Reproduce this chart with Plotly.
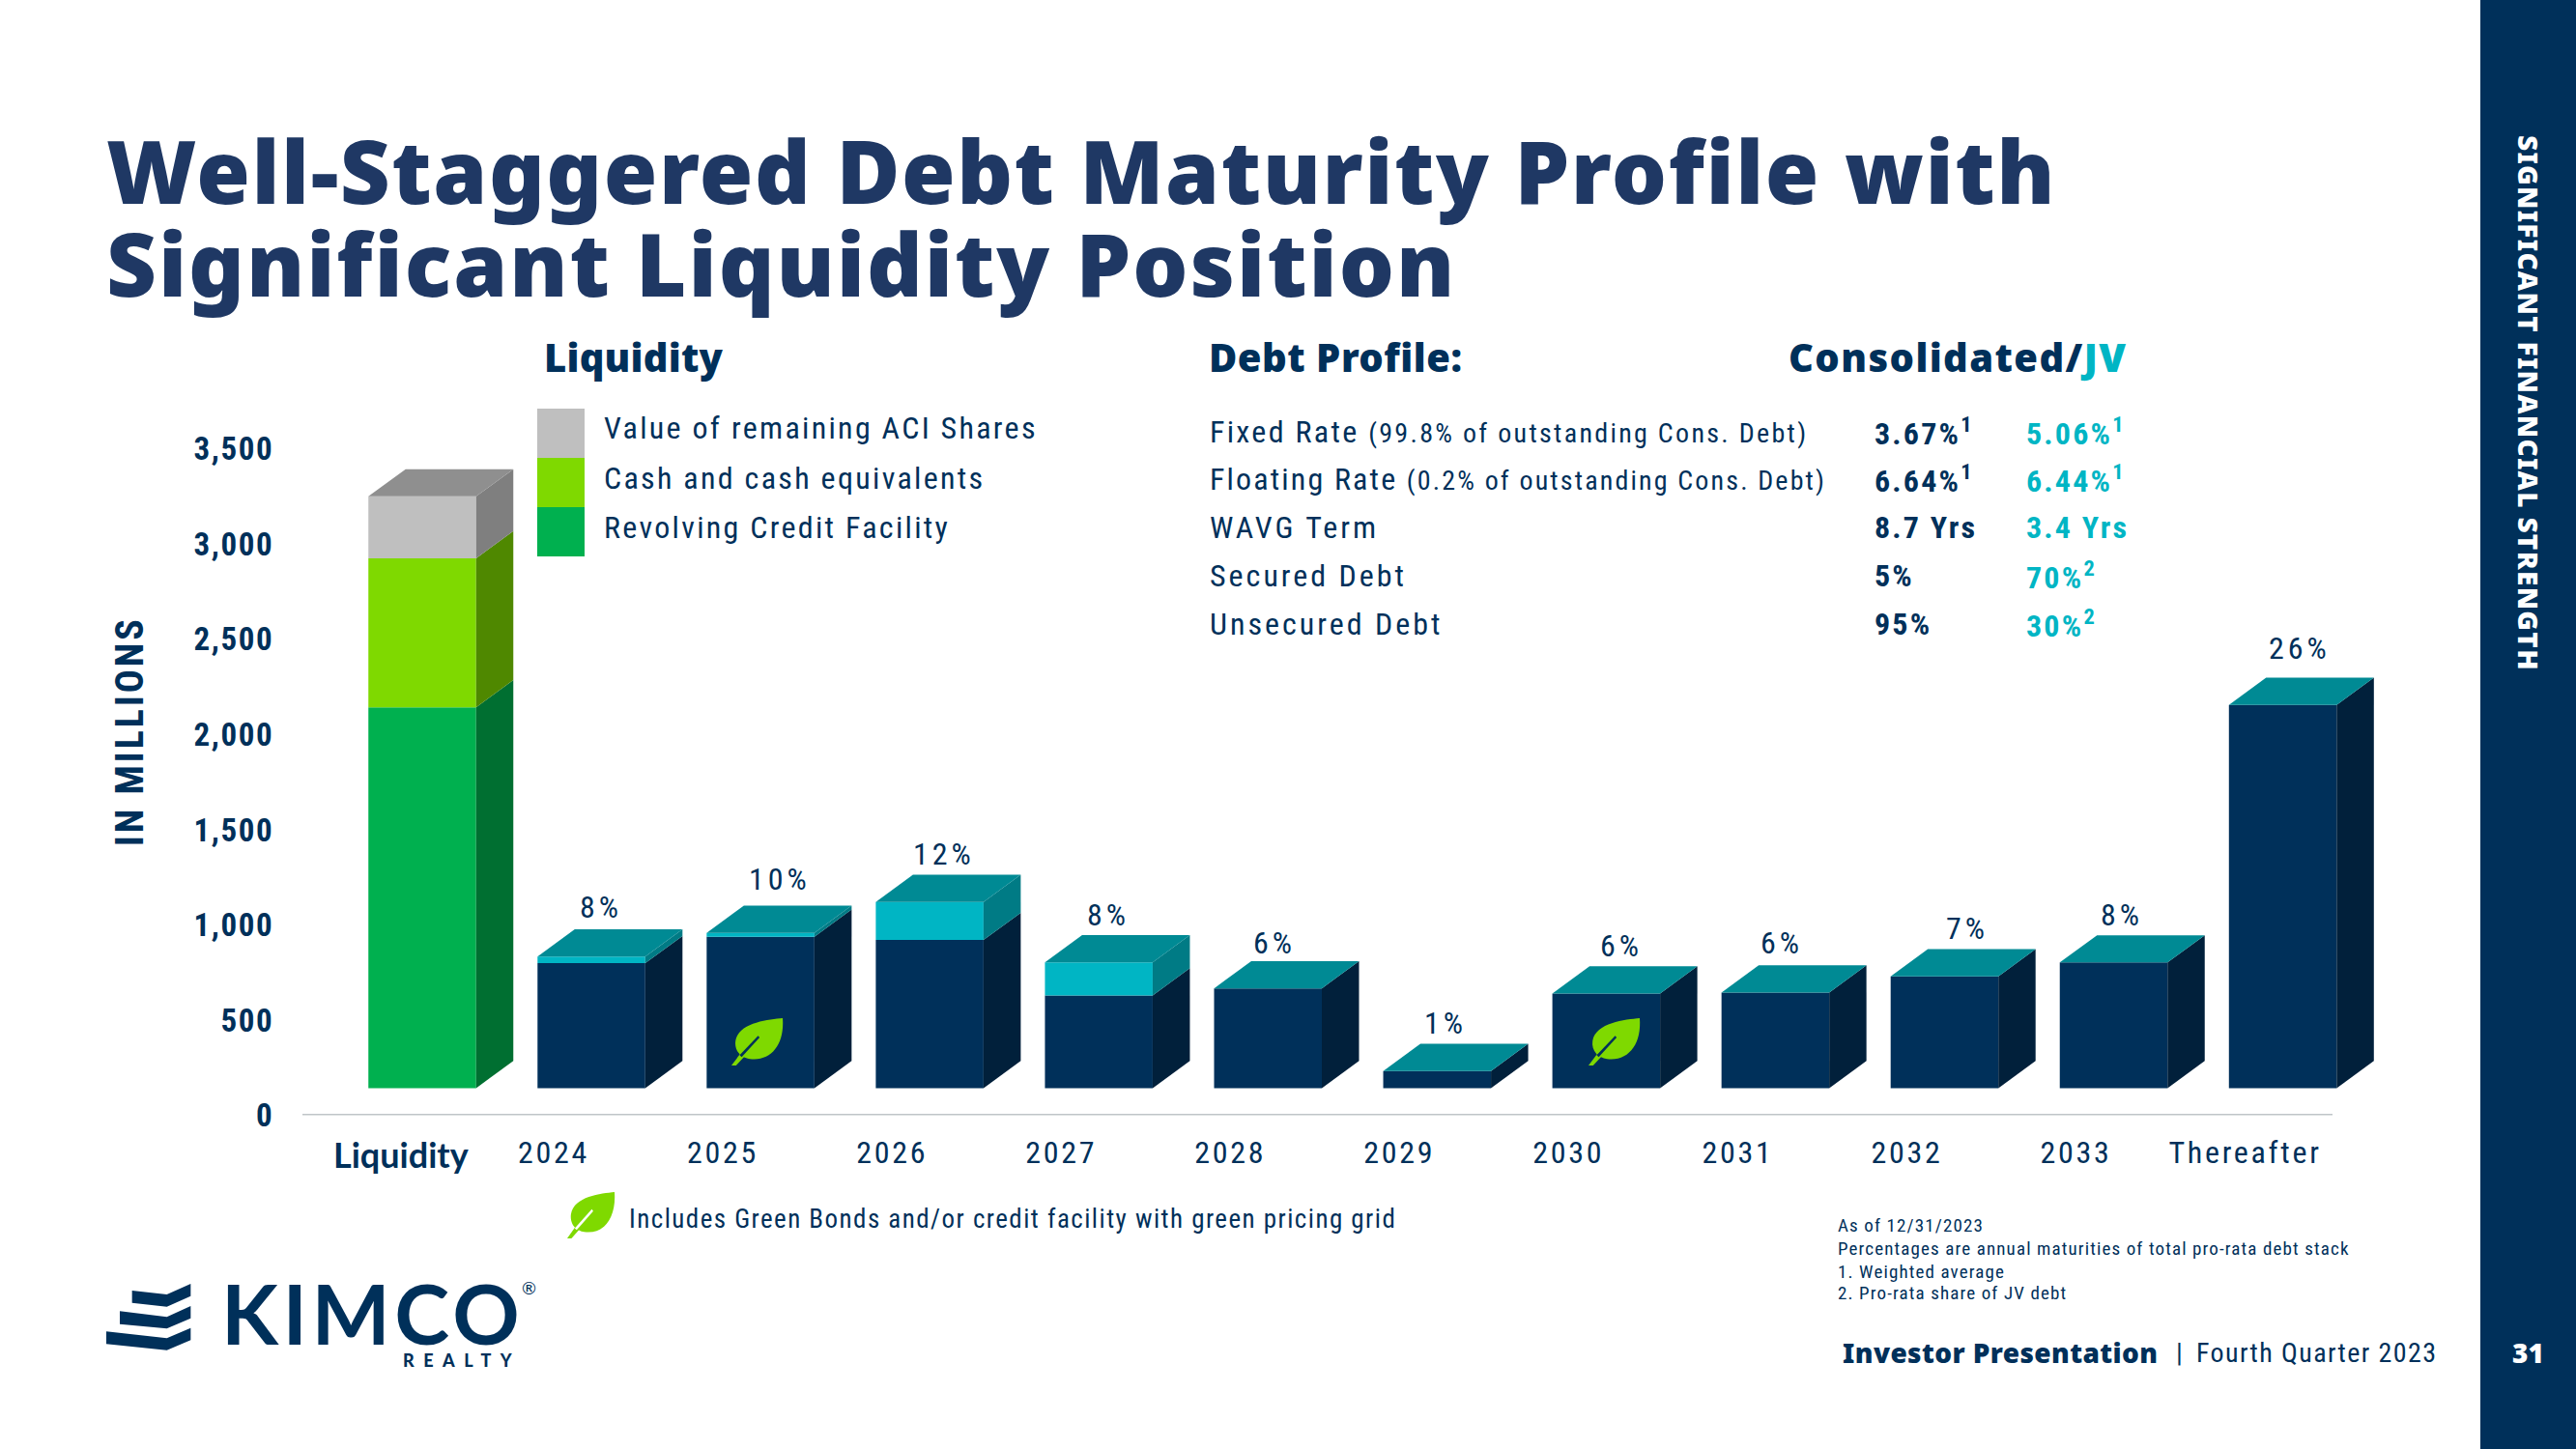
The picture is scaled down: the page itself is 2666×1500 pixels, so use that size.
import plotly.graph_objects as go

# ---------- data ----------
categories = ["Liquidity", "2024", "2025", "2026", "2027", "2028", "2029", "2030", "2031", "2032", "2033", "Thereafter"]
consolidated = [656, 795, 778, 487, 524, 90, 497, 502, 587, 660, 2013]
jv_share = [35, 20, 200, 174, 0, 0, 0, 0, 0, 0, 0]
pct_labels = ["8%", "10%", "12%", "8%", "6%", "1%", "6%", "6%", "7%", "8%", "26%"]
liq_revolver = 2000
liq_cash = 783
liq_aci = 325
y_ticks = [0, 500, 1000, 1500, 2000, 2500, 3000, 3500]
legend_labels = ["Value of remaining ACI Shares", "Cash and cash equivalents", "Revolving Credit Facility"]
debt_rows = ["Fixed Rate", "Floating Rate", "WAVG Term", "Secured Debt", "Unsecured Debt"]
debt_notes = ["(99.8% of outstanding Cons. Debt)", "(0.2% of outstanding Cons. Debt)", "", "", ""]
debt_cons = ["3.67%<sup>1</sup>", "6.64%<sup>1</sup>", "8.7 Yrs", "5%", "95%"]
debt_jv = ["5.06%<sup>1</sup>", "6.44%<sup>1</sup>", "3.4 Yrs", "70%<sup>2</sup>", "30%<sup>2</sup>"]
notes = ["As of 12/31/2023", "Percentages are annual maturities of total pro-rata debt stack",
         "1. Weighted average", "2. Pro-rata share of JV debt"]

# ---------- layout constants ----------
W, H = 2666, 1500
NAVY, TITLE, CYAN = "#00305A", "#1F3864", "#00B5C4"
NARROW = "Roboto Condensed, Liberation Sans, sans-serif"
HEAVY = "Noto Sans, Liberation Sans, sans-serif"
X0_PX, STEP_PX = 437.0, 175.05        # centre of category 0, spacing
AX_L, AX_R, AX_Y = 313.0, 2414.0, 1154.6
PLOT_R = 2480.0                       # plot area runs past the axis line so the last column's side is not clipped
PX_PER_UNIT = 0.1971
TOP_PX = 440.0
BAR_W = 111.5 / STEP_PX
DX = 38.5 / STEP_PX
FLOOR = 143.0                         # 3D floor depth in value units
DY = 143.0
X_LO = (AX_L - X0_PX) / STEP_PX
X_LINE_END = (AX_R - X0_PX) / STEP_PX
X_HI = (PLOT_R - X0_PX) / STEP_PX


def px(x): return x / W
def py(y): return 1 - y / H


def ls(t, sp, extra=""):
    return f'<span style="letter-spacing:{sp}px;{extra}">{t}</span>'


annotations, shapes = [], []


def txt(x, y, t, size, color=NAVY, family=NARROW, weight=None, sp=0, anchor="left", angle=0, extra=""):
    f = dict(size=size, color=color, family=family)
    if weight:
        f["weight"] = weight
    annotations.append(dict(xref="paper", yref="paper", x=px(x), y=py(y), text=ls(t, sp, extra), showarrow=False,
                            xanchor=anchor, yanchor="middle", align=anchor, font=f, textangle=angle,
                            borderpad=0, borderwidth=0))


fig = go.Figure()

# axis baseline, stops short of the plot area's right edge
fig.add_trace(go.Scatter(x=[X_LO, X_LINE_END], y=[0, 0], mode="lines", line=dict(color="#BFC5C8", width=3),
                         showlegend=False, hoverinfo="skip", cliponaxis=False))


def box(i, bottom, top, front, side, topc=None):
    """Draw one segment of a 3D column through the axes."""
    l, r = i - BAR_W / 2, i + BAR_W / 2
    fig.add_trace(go.Bar(x=[i], y=[top - bottom], base=[FLOOR + bottom], width=[BAR_W], marker=dict(color=front, line=dict(width=0)),
                         showlegend=False, hoverinfo="skip"))
    b, t = FLOOR + bottom, FLOOR + top
    fig.add_trace(go.Scatter(x=[r, r + DX, r + DX, r, r], y=[b, b + DY, t + DY, t, b], fill="toself", fillcolor=side,
                             mode="lines", line=dict(width=0), showlegend=False, hoverinfo="skip"))
    if topc:
        fig.add_trace(go.Scatter(x=[l, l + DX, r + DX, r, l], y=[t, t + DY, t + DY, t, t], fill="toself", fillcolor=topc,
                                 mode="lines", line=dict(width=0), showlegend=False, hoverinfo="skip"))


# liquidity stack
box(0, 0, liq_revolver, "#00B04F", "#006F31")
box(0, liq_revolver, liq_revolver + liq_cash, "#7FD900", "#4F8800")
box(0, liq_revolver + liq_cash, liq_revolver + liq_cash + liq_aci, "#BFBFBF", "#7F7F7F", "#8F8F8F")

# maturities
label_nudge = [(-2, 1), (8, 6), (3, -1), (-2, -1), (-5, -3), (-3, -1), (4, -1), (-5, 1), (12, 0), (-4, -1), (5, 8)]
for k, (c, j) in enumerate(zip(consolidated, jv_share)):
    i = k + 1
    box(i, 0, c, NAVY, "#01203B", None if j else "#008A94")
    if j:
        box(i, c, c + j, CYAN, "#007B85", "#008A94")
    dxp, dyp = label_nudge[k]
    annotations.append(dict(xref="x", yref="y", x=i, y=FLOOR + c + j + DY, text=ls(pct_labels[k], 4), showarrow=False,
                            xshift=12 + dxp, yshift=22 + dyp, yanchor="middle", xanchor="center",
                            font=dict(size=32, color=NAVY, family=NARROW)))

# ---------- page furniture ----------
shapes.append(dict(type="rect", xref="paper", yref="paper", x0=px(2567), x1=1, y0=0, y1=1, fillcolor=NAVY, line_width=0, layer="below"))


def poly(points, color):
    d = "M" + " L".join(f"{px(a):.5f},{py(b):.5f}" for a, b in points) + " Z"
    shapes.append(dict(type="path", xref="paper", yref="paper", path=d, fillcolor=color, line_width=0))


def leaf(x, y, w, h, vein):
    P = lambda u, v: f"{px(x + u * w):.5f},{py(y + v * h):.5f}"
    d = (f"M{P(1, 0)} C{P(.72, .03)} {P(.14, .09)} {P(.08, .48)} C{P(.05, .7)} {P(.2, .84)} {P(.36, .86)} "
         f"C{P(.78, .92)} {P(1.04, .55)} {P(1, 0)} Z")
    shapes.append(dict(type="path", xref="paper", yref="paper", path=d, fillcolor="#7FD900", line_width=0))
    poly([(x + .18 * w, y + .74 * h), (x + .28 * w, y + .78 * h), (x + .09 * w, y + 1.0 * h), (x, y + 1.0 * h)], "#7FD900")
    poly([(x + .52 * w, y + .37 * h), (x + .55 * w, y + .41 * h), (x + .2 * w, y + .82 * h), (x + .16 * w, y + .78 * h)], vein)


leaf(757, 1054, 53, 49, NAVY)
leaf(1644, 1054, 53, 49, NAVY)
leaf(587, 1234, 49, 48, "#FFFFFF")

# legend swatches and labels
swatch_cols = ["#BFBFBF", "#7FD900", "#00B04F"]
for n, (c, lab, yc) in enumerate(zip(swatch_cols, legend_labels, [443, 495, 545.5])):
    shapes.append(dict(type="rect", xref="paper", yref="paper", x0=px(556), x1=px(605), y0=py(423 + 51 * n), y1=py(474 + 51 * n),
                       fillcolor=c, line_width=0))
    txt(625, yc, lab, 32, sp=2.3)

# logo chevrons
Z = lambda pts: [(100 + a / 3, 1310 + b / 3) for a, b in pts]
poly(Z([(110, 78), (218, 90), (292, 57), (292, 95), (218, 128), (110, 116)]), NAVY)
poly(Z([(72, 142), (218, 160), (292, 126), (292, 164), (218, 196), (72, 182)]), NAVY)
poly(Z([(30, 205), (218, 226), (292, 194), (292, 232), (218, 263), (30, 244)]), NAVY)
txt(229, 1358, "KIMCO", 86, family="Lato, sans-serif", weight=700, sp=4.5)
txt(540, 1333, "®", 18, family="Lato, sans-serif")
txt(417, 1408, "REALTY", 18, family="Lato, sans-serif", weight=900, sp=9.5)

# title and headings
txt(110, 175.5, "Well-Staggered Debt Maturity Profile with", 90, TITLE, HEAVY, 900, sp=1.55)
txt(110, 271.5, "Significant Liquidity Position", 90, TITLE, HEAVY, 900, sp=1.95)
txt(563, 369, "Liquidity", 40, NAVY, HEAVY, 900, sp=0.2)
txt(1251, 369, "Debt Profile:", 40, NAVY, HEAVY, 900, sp=0.5)
txt(1851, 369, f'Consolidated/<span style="fill:{CYAN}">JV</span>', 40, NAVY, HEAVY, 900, sp=1.4)

# debt table
rows_y = [447, 496, 546, 596, 646]
rows_sp = [2.3, 2.15, 3, 3, 3]
for lab, note, cv, jv, yc, s in zip(debt_rows, debt_notes, debt_cons, debt_jv, rows_y, rows_sp):
    small = f' <span style="font-size:28px">{note}</span>' if note else ""
    txt(1252, yc, lab + small, 32, sp=s)
    txt(1940, yc, cv, 32, weight=700, sp=2.2)
    txt(2097, yc, jv, 32, CYAN, weight=700, sp=2.2)

# footers
txt(651, 1262, "Includes Green Bonds and/or credit facility with green pricing grid", 27, sp=1.45)
for t, yc in zip(notes, [1268, 1292, 1316, 1338]):
    txt(1902, yc, t, 19, sp=1.12)
txt(1907, 1400, "Investor Presentation", 28, NAVY, HEAVY, 900, sp=0.4)
txt(2252, 1400, "|", 28)
txt(2273, 1400, "Fourth Quarter 2023", 28, sp=1.4)
txt(2616, 1400, "31", 28, "#FFFFFF", HEAVY, 900, anchor="center")
txt(2617, 417, "SIGNIFICANT FINANCIAL STRENGTH", 28, "#FFFFFF", HEAVY, 900, sp=1.3, anchor="center", angle=90)

# axis titles / custom category label
txt(134, 757, "IN MILLIONS", 40, NAVY, NARROW, 700, sp=3, anchor="center", angle=-90)
txt(415, 1195, categories[0], 36, NAVY, "Lato, sans-serif", 700, anchor="center")

fig.update_layout(
    width=W, height=H, autosize=False, margin=dict(l=0, r=0, t=0, b=0, autoexpand=False), paper_bgcolor="#FFFFFF", plot_bgcolor="rgba(0,0,0,0)",
    barmode="overlay", showlegend=False, hovermode=False, annotations=annotations, shapes=shapes,
    xaxis=dict(automargin=False, domain=[px(AX_L), px(PLOT_R)], range=[X_LO, X_HI], showgrid=False, zeroline=False,
               showline=False, tickmode="array",
               tickvals=[i - 39 / STEP_PX for i in range(1, len(categories))],
               ticktext=[ls(c, 2.7) for c in categories[1:]], ticks="outside", ticklen=10, tickcolor="rgba(0,0,0,0)",
               tickfont=dict(size=32, color=NAVY, family=NARROW), tickangle=0),
    yaxis=dict(automargin=False, domain=[py(AX_Y), py(TOP_PX)], range=[0, (AX_Y - TOP_PX) / PX_PER_UNIT], showgrid=False, zeroline=False, showline=False,
               tickmode="array", tickvals=y_ticks, ticktext=[ls(f"{v:,}", 1.6) for v in y_ticks], ticks="outside", ticklen=22,
               tickcolor="rgba(0,0,0,0)", tickfont=dict(size=33, color=NAVY, family=NARROW, weight=700)),
)
fig.write_html("out.html", config={"displayModeBar": False, "responsive": False}, post_script="document.body.style.margin='0';")
